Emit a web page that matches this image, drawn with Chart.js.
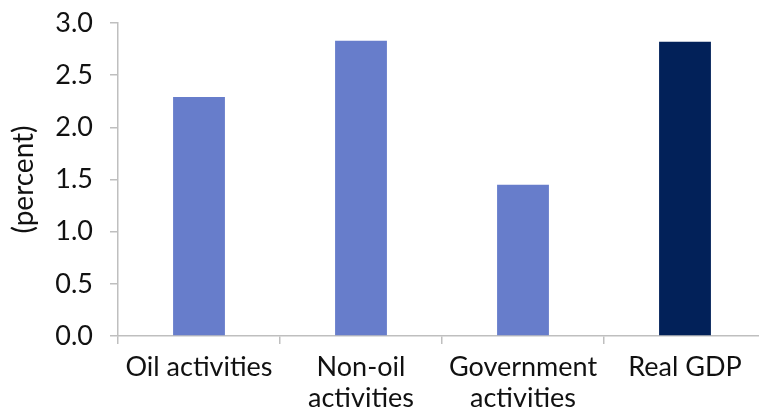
<!DOCTYPE html>
<html>
<head>
<meta charset="utf-8">
<script src="https://cdn.jsdelivr.net/npm/chart.js@4/dist/chart.umd.min.js"></script>
<style>
  html, body { margin: 0; padding: 0; background: #fff; overflow: hidden; }
  #wrap { width: 759px; height: 417px; overflow: hidden; }
  #c { display: block; }
</style>
</head>
<body>
<div id="wrap"><canvas id="c" width="766" height="417"></canvas></div>
<script>
// Growth by sector, percent
const categories = [["Oil activities"], ["Non-oil", "activities"], ["Government", "activities"], ["Real GDP"]];
const growth = [2.29, 2.83, 1.45, 2.82];
const barColors = ["#677DCB", "#677DCB", "#677DCB", "#022159"];
const yTicks = { min: 0, max: 3.0, step: 0.5 };

const axisGrey = "#BFBFBF";
const family = "Lato, 'Open Sans', sans-serif";
const tickFont = { family: family, size: 27, lineHeight: 1.15 };
const titleFont = { family: family, size: 28 };

new Chart(document.getElementById("c"), {
  type: "bar",
  data: {
    labels: categories,
    datasets: [{
      data: growth,
      backgroundColor: barColors,
      borderWidth: 0,
      barPercentage: 0.32,
      categoryPercentage: 1.0
    }]
  },
  options: {
    responsive: false,
    animation: false,
    layout: { padding: { top: 23, right: 0, left: 7, bottom: 0 } },
    plugins: { legend: { display: false }, tooltip: { enabled: false } },
    scales: {
      x: {
        offset: true,
        afterFit: s => { s.height = 81; },
        grid: {
          offset: true,
          drawOnChartArea: false,
          drawTicks: true,
          tickLength: 8,
          color: axisGrey,
          lineWidth: 1.5
        },
        border: { color: axisGrey, width: 1.5 },
        ticks: { color: "#111", font: tickFont, padding: 8, maxRotation: 0, autoSkip: false }
      },
      y: {
        min: yTicks.min,
        max: yTicks.max,
        afterFit: s => { s.width = 111; s.paddingTop = 0; s.paddingBottom = 0; },
        ticks: {
          stepSize: yTicks.step,
          color: "#111",
          font: tickFont,
          padding: 17,
          callback: v => v.toFixed(1)
        },
        grid: {
          drawOnChartArea: false,
          drawTicks: true,
          tickLength: 8,
          color: axisGrey,
          lineWidth: 1.5
        },
        border: { color: axisGrey, width: 1.5 },
        title: {
          display: true,
          text: "(percent)",
          color: "#111",
          font: titleFont,
          padding: { top: 0, bottom: 4 }
        }
      }
    }
  }
});
</script>
</body>
</html>
